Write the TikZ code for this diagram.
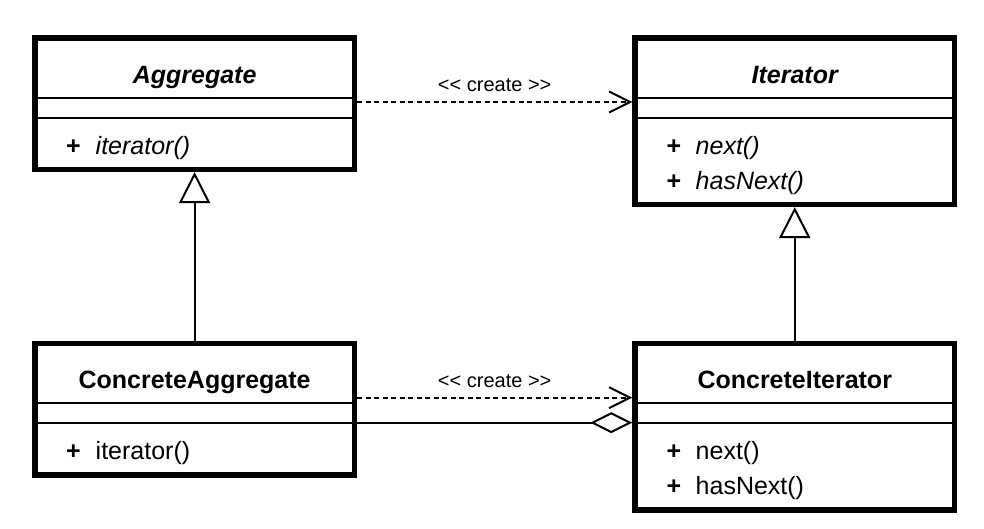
\documentclass[tikz,border=0pt]{standalone}
\usepackage{fontspec}
\setmainfont{Liberation Sans}
\usetikzlibrary{arrows.meta}
\begin{document}
\begin{tikzpicture}[x=1pt,y=-1pt,
  classbox/.style={draw, line width=5.5pt, minimum width=319.5pt, inner sep=0pt, fill=white},
  sepline/.style={line width=2pt},
  ctitle/.style={anchor=base, inner sep=0pt, font=\fontsize{25}{29}\selectfont\bfseries},
  atitle/.style={ctitle, font=\fontsize{25}{29}\selectfont\bfseries\itshape},
  plus/.style={anchor=base west, inner sep=0pt, font=\fontsize{25}{29}\selectfont\bfseries},
  cmeth/.style={anchor=base west, inner sep=0pt, font=\fontsize{25}{29}\selectfont},
  ameth/.style={cmeth, font=\fontsize{25}{29}\selectfont\itshape},
  conn/.style={line width=2pt},
  dep/.style={conn, dash pattern=on 5pt off 3.5pt, -{Straight Barb[length=21pt,width=21pt]}},
  gen/.style={conn, -{Triangle[open,length=31pt,width=31pt]}},
  aggr/.style={conn, -{Diamond[open,length=42pt,width=21pt]}},
  lbl/.style={anchor=base, inner sep=0pt, yshift=10.5pt, font=\fontsize{20}{24}\selectfont}
]
\useasboundingbox (0,0) rectangle (984,529);

% class boxes
\node[classbox, minimum height=131.5pt] (agg) at (194.6,103.55) {};
\node[classbox, minimum height=166.5pt] (it) at (794.75,121.05) {};
\node[classbox, minimum height=131.5pt] (ca) at (194.6,409.05) {};
\node[classbox, minimum height=166.5pt] (ci) at (794.75,426.55) {};

% compartment lines
\draw[sepline] (agg.west |- 0,98) -- (agg.east |- 0,98);
\draw[sepline] (agg.west |- 0,118) -- (agg.east |- 0,118);
\draw[sepline] (it.west |- 0,98) -- (it.east |- 0,98);
\draw[sepline] (it.west |- 0,118) -- (it.east |- 0,118);
\draw[sepline] (ca.west |- 0,403) -- (ca.east |- 0,403);
\draw[sepline] (ca.west |- 0,423) -- (ca.east |- 0,423);
\draw[sepline] (ci.west |- 0,403) -- (ci.east |- 0,403);
\draw[sepline] (ci.west |- 0,423) -- (ci.east |- 0,423);

% titles
\node[atitle] (aggt) at (194.6,83.3) {Aggregate};
\node[atitle] (itt) at (794.75,83.3) {Iterator};
\node[ctitle] (cat) at (194.6,388.3) {ConcreteAggregate};
\node[ctitle] (cit) at (794.75,388.3) {ConcreteIterator};

% operations
\node[plus] (aggp1) at (66,154.8) {+};
\node[ameth] (aggm1) at (95.5,154.8) {iterator()};
\node[plus] (itp1) at (666.5,154.8) {+};
\node[ameth] (itm1) at (695.5,154.8) {next()};
\node[plus] (itp2) at (666.5,189.6) {+};
\node[ameth] (itm2) at (695.5,189.6) {hasNext()};
\node[plus] (cap1) at (66,459.8) {+};
\node[cmeth] (cam1) at (95.5,459.8) {iterator()};
\node[plus] (cip1) at (666.5,459.8) {+};
\node[cmeth] (cim1) at (695.5,459.8) {next()};
\node[plus] (cip2) at (666.5,494.6) {+};
\node[cmeth] (cim2) at (695.5,494.6) {hasNext()};

% connectors
\draw[dep] ([yshift=1.55pt]agg.east) -- ([yshift=1.55pt]agg.east -| it.west)
  node[lbl, pos=0.5] {<\kern0pt< create >\kern0pt>};
\draw[dep] ([yshift=11.35pt]ca.east) -- ([yshift=11.35pt]ca.east -| ci.west)
  node[lbl, pos=0.5] {<\kern0pt< create >\kern0pt>};
\draw[aggr] ([yshift=-13.65pt]ca.east) -- ([yshift=-13.65pt]ca.east -| ci.west);
\draw[gen] (ca.north) -- (agg.south);
\draw[gen] (ci.north) -- (it.south);
\end{tikzpicture}
\end{document}
